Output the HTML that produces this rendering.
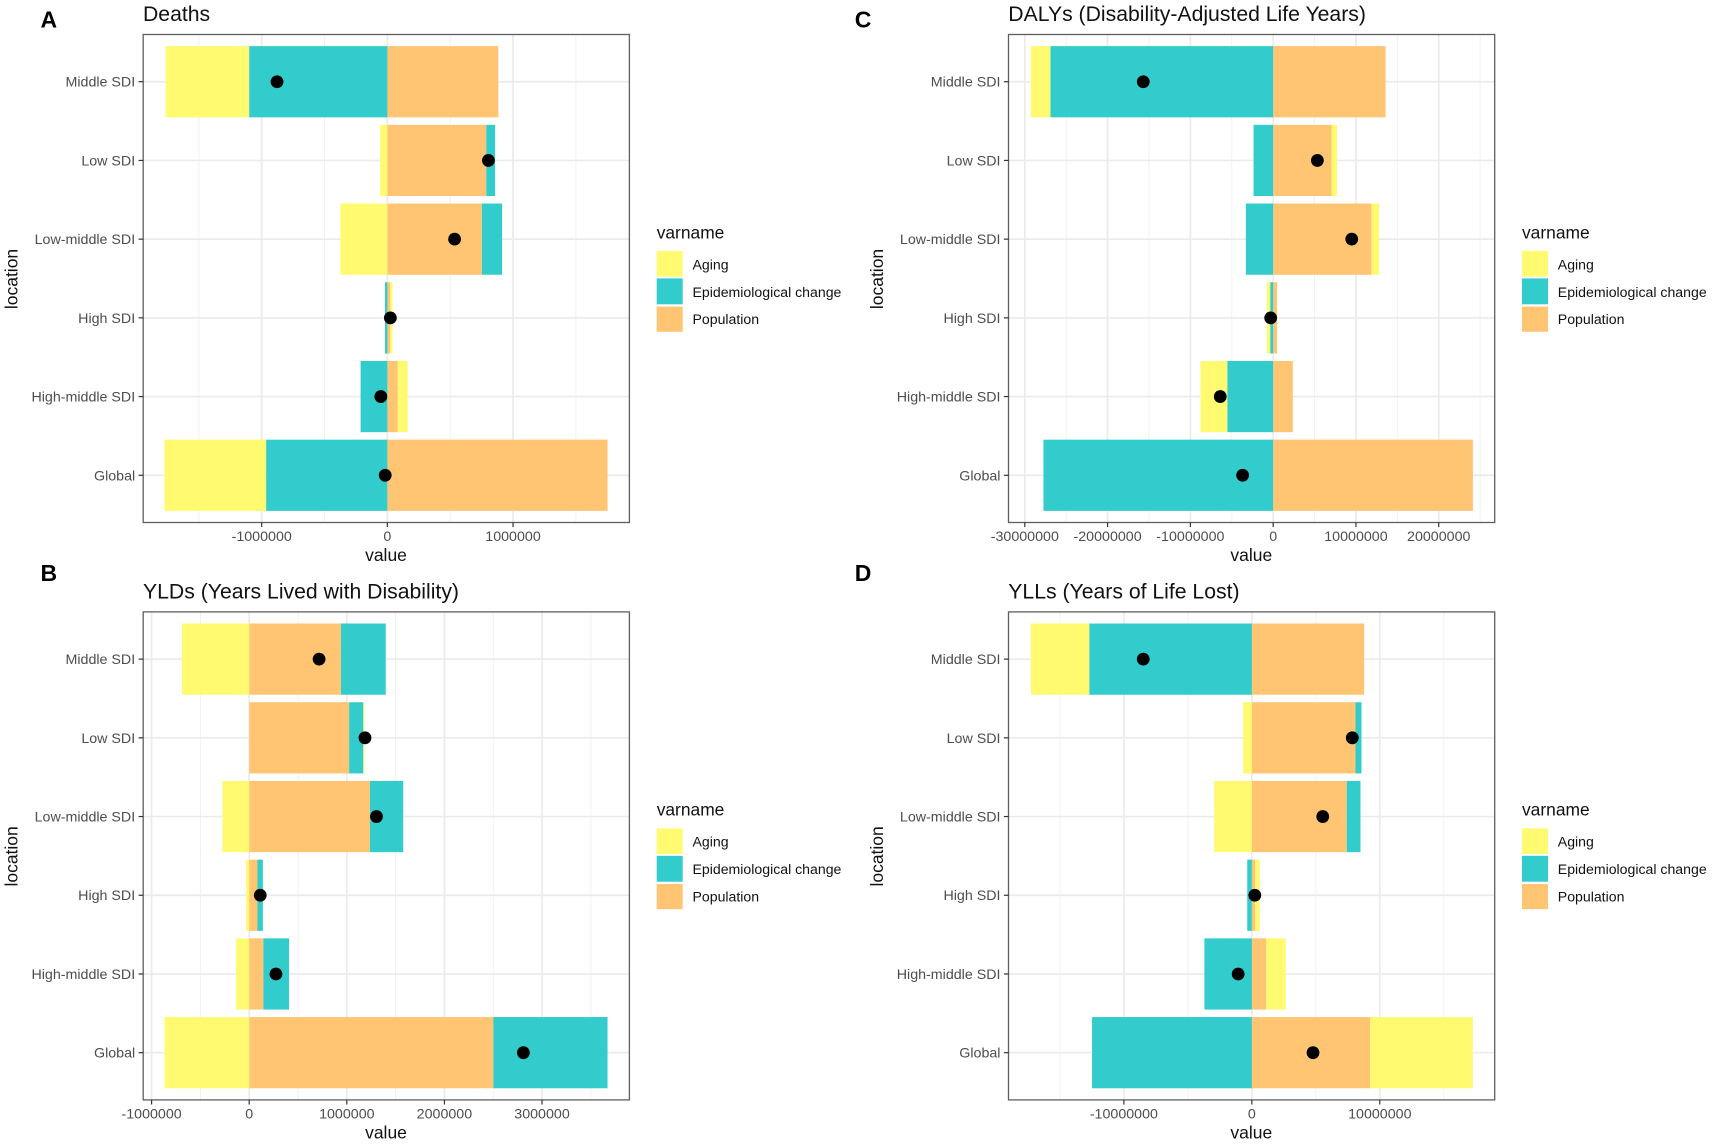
<!DOCTYPE html>
<html lang="en">
<head>
<meta charset="utf-8">
<title>Decomposition of burden by SDI</title>
<style>
html,body{margin:0;padding:0;background:#fff;}
svg{display:block;font-family:"Liberation Sans",Arial,sans-serif;}
.tag{font-size:23px;font-weight:bold;fill:#000;}
.title{font-size:21.2px;fill:#111;}
.axt{font-size:17.5px;fill:#111;text-anchor:middle;}
.tick{font-size:14.25px;fill:#4d4d4d;}
.legt{font-size:17.4px;fill:#111;}
.legl{font-size:14.1px;fill:#111;}
</style>
</head>
<body>
<svg id="figure" xmlns="http://www.w3.org/2000/svg" width="1712" height="1144" viewBox="0 0 1712 1144">
  <rect x="0" y="0" width="1712" height="1144" fill="#ffffff"/>

  <g id="panel-a" transform="translate(0,0)">
    <text class="tag" x="40.5" y="27.7">A</text>
    <text class="title" x="143" y="21">Deaths</text>
    <g class="plot"></g>
    <text class="axt" x="386" y="561">value</text>
    <text class="axt" transform="translate(17.5,279) rotate(-90)">location</text>
    <g>
      <text class="legt" x="656.7" y="238.3">varname</text>
      <rect x="656.7" y="251" width="26" height="25.6" fill="#FFFA70"/>
      <rect x="656.7" y="278.4" width="26" height="25.9" fill="#33CCCC"/>
      <rect x="656.7" y="306.6" width="26" height="25.2" fill="#FFC573"/>
      <text class="legl" x="692.5" y="269.3">Aging</text>
      <text class="legl" x="692.5" y="296.8">Epidemiological change</text>
      <text class="legl" x="692.5" y="324.2">Population</text>
    </g>
  </g>

  <g id="panel-b" transform="translate(0,577.4)">
    <text class="tag" x="40.5" y="3.6">B</text>
    <text class="title" x="143" y="21">YLDs (Years Lived with Disability)</text>
    <g class="plot"></g>
    <text class="axt" x="386" y="561">value</text>
    <text class="axt" transform="translate(17.5,279) rotate(-90)">location</text>
    <g>
      <text class="legt" x="656.7" y="238.3">varname</text>
      <rect x="656.7" y="251" width="26" height="25.6" fill="#FFFA70"/>
      <rect x="656.7" y="278.4" width="26" height="25.9" fill="#33CCCC"/>
      <rect x="656.7" y="306.6" width="26" height="25.2" fill="#FFC573"/>
      <text class="legl" x="692.5" y="269.3">Aging</text>
      <text class="legl" x="692.5" y="296.8">Epidemiological change</text>
      <text class="legl" x="692.5" y="324.2">Population</text>
    </g>
  </g>

  <g id="panel-c" transform="translate(865.3,0)">
    <text class="tag" x="-10.5" y="27.7">C</text>
    <text class="title" x="143" y="21">DALYs (Disability-Adjusted Life Years)</text>
    <g class="plot"></g>
    <text class="axt" x="386" y="561">value</text>
    <text class="axt" transform="translate(17.5,279) rotate(-90)">location</text>
    <g>
      <text class="legt" x="656.7" y="238.3">varname</text>
      <rect x="656.7" y="251" width="26" height="25.6" fill="#FFFA70"/>
      <rect x="656.7" y="278.4" width="26" height="25.9" fill="#33CCCC"/>
      <rect x="656.7" y="306.6" width="26" height="25.2" fill="#FFC573"/>
      <text class="legl" x="692.5" y="269.3">Aging</text>
      <text class="legl" x="692.5" y="296.8">Epidemiological change</text>
      <text class="legl" x="692.5" y="324.2">Population</text>
    </g>
  </g>

  <g id="panel-d" transform="translate(865.3,577.4)">
    <text class="tag" x="-10.5" y="3.6">D</text>
    <text class="title" x="143" y="21">YLLs (Years of Life Lost)</text>
    <g class="plot"></g>
    <text class="axt" x="386" y="561">value</text>
    <text class="axt" transform="translate(17.5,279) rotate(-90)">location</text>
    <g>
      <text class="legt" x="656.7" y="238.3">varname</text>
      <rect x="656.7" y="251" width="26" height="25.6" fill="#FFFA70"/>
      <rect x="656.7" y="278.4" width="26" height="25.9" fill="#33CCCC"/>
      <rect x="656.7" y="306.6" width="26" height="25.2" fill="#FFC573"/>
      <text class="legl" x="692.5" y="269.3">Aging</text>
      <text class="legl" x="692.5" y="296.8">Epidemiological change</text>
      <text class="legl" x="692.5" y="324.2">Population</text>
    </g>
  </g>
</svg>

<script>
// Rows, listed bottom to top
const categories = ["Global", "High-middle SDI", "High SDI", "Low-middle SDI", "Low SDI", "Middle SDI"];

// Deaths (panel A)
const deathsAging = [-809000, 78000, 19000, -374000, -57000, -665000];
const deathsEpi = [-965000, -213000, -19000, 161000, 70000, -1100000];
const deathsPop = [1752000, 83000, 21000, 752000, 787000, 883000];
const deathsTotal = [-17000, -52000, 24000, 535000, 804000, -878000];
const deathsMajorTicks = [-1000000, 0, 1000000];
const deathsMinorTicks = [-1500000, -500000, 500000, 1500000];
const deathsDomain = [-1943000, 1926000];

// YLDs (panel B)
const yldsAging = [-867000, -134000, -31000, -274000, 11000, -688000];
const yldsEpi = [1170000, 263000, 55000, 341000, 145000, 459000];
const yldsPop = [2501000, 145000, 85000, 1237000, 1024000, 940000];
const yldsTotal = [2809000, 274000, 113000, 1304000, 1186000, 716000];
const yldsMajorTicks = [-1000000, 0, 1000000, 2000000, 3000000];
const yldsMinorTicks = [-500000, 500000, 1500000, 2500000, 3500000];
const yldsDomain = [-1086000, 3895000];

// DALYs (panel C)
const dalysAging = [0, -3230000, -400000, 920000, 660000, -2370000];
const dalysEpi = [-27750000, -5540000, -360000, -3300000, -2370000, -26900000];
const dalysPop = [24130000, 2370000, 480000, 11870000, 7050000, 13580000];
const dalysTotal = [-3690000, -6390000, -300000, 9490000, 5340000, -15690000];
const dalysMajorTicks = [-30000000, -20000000, -10000000, 0, 10000000, 20000000];
const dalysMinorTicks = [-25000000, -15000000, -5000000, 5000000, 15000000, 25000000];
const dalysDomain = [-31970000, 26760000];

// YLLs (panel D)
const yllsAging = [8020000, 1540000, 360000, -2940000, -680000, -4560000];
const yllsEpi = [-12490000, -3710000, -360000, 1070000, 470000, -12710000];
const yllsPop = [9250000, 1110000, 260000, 7420000, 8100000, 8780000];
const yllsTotal = [4780000, -1070000, 230000, 5540000, 7850000, -8490000];
const yllsMajorTicks = [-10000000, 0, 10000000];
const yllsMinorTicks = [-15000000, -5000000, 5000000, 15000000];
const yllsDomain = [-19020000, 18980000];

const NS = "http://www.w3.org/2000/svg";
const COLORS = { aging: "#FFFA70", epi: "#33CCCC", pop: "#FFC573" };
const PANEL_BOX = { left: 143.2, right: 629.4, top: 34.5, bottom: 522.5 };

function make(tag, attrs, parent) {
  const el = document.createElementNS(NS, tag);
  for (const k in attrs) el.setAttribute(k, attrs[k]);
  parent.appendChild(el);
  return el;
}

function drawPanel(id, prefix, aging, epi, pop, total, major, minor, domain) {
  const g = document.querySelector("#" + id + " .plot");
  const b = PANEL_BOX;
  const xScale = v => b.left + (v - domain[0]) / (domain[1] - domain[0]) * (b.right - b.left);
  const step = (b.bottom - b.top) / (categories.length + 0.2);
  const yScale = i => b.bottom - (i + 0.6) * step;
  const barH = step * 0.905;

  const bg = make("rect", { x: b.left, y: b.top, width: b.right - b.left, height: b.bottom - b.top, fill: "#ffffff" }, g);
  
  

  minor.forEach(v => {
    const l = make("line", { x1: xScale(v), x2: xScale(v), y1: b.top, y2: b.bottom, stroke: "#f0f0f0", "stroke-width": 0.9 }, g);
    
    
  });
  major.forEach(v => {
    const l = make("line", { x1: xScale(v), x2: xScale(v), y1: b.top, y2: b.bottom, stroke: "#ebebeb", "stroke-width": 1.7 }, g);
    
    
  });
  categories.forEach((c, i) => {
    const l = make("line", { x1: b.left, x2: b.right, y1: yScale(i), y2: yScale(i), stroke: "#ebebeb", "stroke-width": 1.7 }, g);
    
    
  });

  // Stacks grow outward from zero: population, then epidemiological change, then aging
  categories.forEach((c, i) => {
    let posEnd = 0, negEnd = 0;
    [["pop", pop[i]], ["epi", epi[i]], ["aging", aging[i]]].forEach(([key, val]) => {
      let from, to;
      if (val >= 0) { from = posEnd; to = posEnd + val; posEnd = to; }
      else { from = negEnd; to = negEnd + val; negEnd = to; }
      const x0 = xScale(Math.min(from, to)), x1 = xScale(Math.max(from, to));
      const r = make("rect", { x: x0, y: yScale(i) - barH / 2, width: x1 - x0, height: barH, fill: COLORS[key] }, g);
      
      
    });
  });

  categories.forEach((c, i) => {
    const d = make("circle", { cx: xScale(total[i]), cy: yScale(i), r: 6.4, fill: "#000000" }, g);
    
    
  });

  const border = make("rect", { x: b.left, y: b.top, width: b.right - b.left, height: b.bottom - b.top, fill: "none", stroke: "#5f5f5f", "stroke-width": 1.3 }, g);
  
  

  major.forEach(v => {
    const t = make("line", { x1: xScale(v), x2: xScale(v), y1: b.bottom, y2: b.bottom + 4.6, stroke: "#333333", "stroke-width": 1.2 }, g);
    
    
    const txt = make("text", { x: xScale(v), y: b.bottom + 18.4, "text-anchor": "middle", class: "tick" }, g);
    
    
    txt.textContent = String(v);
  });
  categories.forEach((c, i) => {
    const t = make("line", { x1: b.left - 4.6, x2: b.left, y1: yScale(i), y2: yScale(i), stroke: "#333333", "stroke-width": 1.2 }, g);
    
    
    const txt = make("text", { x: b.left - 8, y: yScale(i) + 5, "text-anchor": "end", class: "tick" }, g);
    
    
    txt.textContent = c;
  });
}

drawPanel("panel-a", "deaths", deathsAging, deathsEpi, deathsPop, deathsTotal, deathsMajorTicks, deathsMinorTicks, deathsDomain);
drawPanel("panel-b", "ylds", yldsAging, yldsEpi, yldsPop, yldsTotal, yldsMajorTicks, yldsMinorTicks, yldsDomain);
drawPanel("panel-c", "dalys", dalysAging, dalysEpi, dalysPop, dalysTotal, dalysMajorTicks, dalysMinorTicks, dalysDomain);
drawPanel("panel-d", "ylls", yllsAging, yllsEpi, yllsPop, yllsTotal, yllsMajorTicks, yllsMinorTicks, yllsDomain);
</script>
</body>
</html>
